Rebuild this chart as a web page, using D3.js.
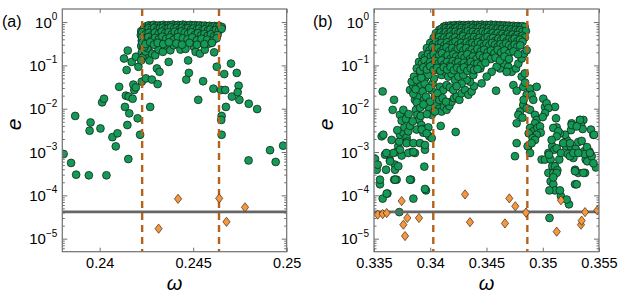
<!DOCTYPE html>
<html>
<head>
<meta charset="utf-8">
<script src="https://cdn.jsdelivr.net/npm/d3@7"></script>
<style>
  body { margin: 0; background: #fff; }
  svg text { font-family: "Liberation Sans", Arial, Helvetica, sans-serif; fill: #000; }
</style>
</head>
<body>
<svg id="chart"></svg>
<script>
const width = 623;
const height = 294;

// ---- data: [omega, e] ----
const dotsA = [
  // tails
  [0.23807, 9e-4], [0.23847, 5.6e-4], [0.23874, 3e-4], [0.23869, 6.8e-3], [0.23942, 2.9e-4],
  [0.23951, 4.8e-3], [0.23946, 3.1e-3], [0.24004, 3.5e-3], [0.24036, 2.9e-4], [0.24013, 1.4e-2],
  [0.24023, 1.7e-2], [0.24068, 2.2e-3], [0.24095, 2.7e-3], [0.24086, 1.35e-3], [0.24104, 3.2e-2],
  [0.24135, 1.1e-2], [0.24158, 7.8e-3], [0.24148, 4.2e-3], [0.24153, 6.9e-4], [0.2414, 2e-2],
  [0.24155, 1.9e-2], [0.24176, 1.7e-2], [0.24185, 2.7e-2], [0.2418, 3.6e-2], [0.24193, 3.1e-2],
  [0.24203, 6e-3], [0.24216, 2.5e-3], [0.2413, 0.144], [0.24144, 0.078], [0.2415, 0.22],
  [0.24171, 0.12], [0.24194, 0.158], [0.24207, 0.093], [0.24225, 0.042], [0.24247, 0.05],
  [0.24279, 0.047], [0.2431, 0.037], [0.2427, 0.011], [0.24306, 0.085], [0.2432, 0.071],
  [0.24266, 0.13], [0.24369, 0.12], [0.24463, 0.047], [0.24477, 0.067], [0.24473, 0.13],
  [0.24527, 0.016], [0.24553, 0.043], [0.24608, 0.029], [0.24648, 0.027], [0.24652, 6.8e-3],
  [0.2465, 5.5e-3], [0.24652, 2.5e-3], [0.24671, 0.027], [0.24675, 0.011], [0.24702, 0.11],
  [0.24666, 0.063], [0.24626, 0.093], [0.24707, 0.019], [0.24733, 0.067], [0.24743, 0.034],
  [0.24738, 0.024], [0.24747, 0.016], [0.24797, 0.013], [0.24842, 9.8e-3], [0.24796, 6.4e-4],
  [0.24911, 1.1e-3], [0.24941, 5.9e-4], [0.24981, 1.4e-3],
  // middle, 0.15 .. 0.4
  [0.24234, 0.267], [0.24261, 0.223], [0.24279, 0.187], [0.24297, 0.171], [0.24315, 0.231],
  [0.24338, 0.205], [0.24351, 0.291], [0.24378, 0.223], [0.24396, 0.291], [0.24432, 0.231],
  [0.24459, 0.24], [0.24504, 0.267], [0.24513, 0.205], [0.24536, 0.187], [0.24562, 0.23],
  [0.24585, 0.318], [0.2459, 0.38], [0.24612, 0.2], [0.24549, 0.347], [0.24531, 0.33],
  // left edge column
  [0.24222, 0.62], [0.2422, 0.5], [0.24225, 0.37], [0.24222, 0.28], [0.24232, 0.24],
  [0.24225, 0.2], [0.2424, 0.17], [0.24228, 0.15], [0.24222, 0.13], [0.24245, 0.21],
  [0.24255, 0.25], [0.2424, 0.27],
  // dense top
  [0.2425, 0.8], [0.24263, 0.84], [0.24276, 0.82], [0.24289, 0.86], [0.24302, 0.81],
  [0.24315, 0.84], [0.24328, 0.83], [0.24341, 0.86], [0.24354, 0.82], [0.24367, 0.85],
  [0.2438, 0.84], [0.24393, 0.87], [0.24406, 0.83], [0.24419, 0.86], [0.24432, 0.84],
  [0.24445, 0.87], [0.24458, 0.85], [0.24471, 0.82], [0.24484, 0.86], [0.24497, 0.83],
  [0.2451, 0.85], [0.24523, 0.82], [0.24536, 0.84], [0.24549, 0.81], [0.24562, 0.83],
  [0.24575, 0.8], [0.24588, 0.82], [0.24601, 0.79], [0.24614, 0.81], [0.24627, 0.78],
  [0.2464, 0.8], [0.24653, 0.77],
  [0.24235, 0.7], [0.24248, 0.66], [0.24262, 0.72], [0.24278, 0.68], [0.24292, 0.73],
  [0.24308, 0.67], [0.24322, 0.71], [0.24338, 0.74], [0.24352, 0.69], [0.24368, 0.72],
  [0.24382, 0.75], [0.24398, 0.7], [0.24412, 0.73], [0.24428, 0.68], [0.24442, 0.74],
  [0.24458, 0.7], [0.24472, 0.72], [0.24488, 0.67], [0.24502, 0.71], [0.24518, 0.66],
  [0.24532, 0.7], [0.24548, 0.64], [0.24562, 0.68], [0.24578, 0.63], [0.24592, 0.67],
  [0.24608, 0.62], [0.24622, 0.66], [0.24638, 0.64], [0.24652, 0.7],
  [0.24228, 0.58], [0.24245, 0.52], [0.24262, 0.56], [0.2428, 0.5], [0.24296, 0.57],
  [0.24315, 0.53], [0.24332, 0.6], [0.2435, 0.55], [0.24368, 0.58], [0.24385, 0.52],
  [0.24402, 0.6], [0.2442, 0.56], [0.24438, 0.61], [0.24455, 0.57], [0.24472, 0.53],
  [0.2449, 0.58], [0.24508, 0.5], [0.24525, 0.55], [0.24542, 0.49], [0.2456, 0.53],
  [0.24578, 0.48], [0.24595, 0.52], [0.24612, 0.47], [0.2463, 0.5],
  [0.24226, 0.44], [0.24242, 0.4], [0.2426, 0.45], [0.24278, 0.38], [0.24296, 0.43],
  [0.24316, 0.4], [0.24335, 0.46], [0.24355, 0.41], [0.24375, 0.44], [0.24395, 0.39],
  [0.24418, 0.45], [0.24445, 0.42], [0.2447, 0.4], [0.24495, 0.44], [0.2452, 0.38],
  [0.24545, 0.41], [0.24575, 0.39], [0.24605, 0.37], [0.24625, 0.42],
  [0.24228, 0.33], [0.24245, 0.31], [0.2427, 0.34], [0.2429, 0.3], [0.2431, 0.33],
  [0.2434, 0.31], [0.2437, 0.34], [0.2441, 0.32], [0.2444, 0.3], [0.2448, 0.33],
  [0.2452, 0.3], [0.2456, 0.31], [0.246, 0.33]
];
const diamondsA = [
  [0.24315, 1.7e-5], [0.24419, 8.3e-5], [0.24639, 8.5e-5], [0.24678, 2.45e-5], [0.24777, 5.3e-5]
];
const dashA = [0.24227, 0.24638];

const dotsB = [
  // left tail
  [0.33509, 6.9e-4], [0.33518, 4.7e-4], [0.33524, 3.9e-4], [0.33533, 5.1e-4], [0.33568, 2.3e-3],
  [0.33583, 2.5e-3], [0.33577, 2.5e-2], [0.33598, 8.7e-4], [0.33607, 3.9e-4], [0.33553, 1.8e-4],
  [0.33577, 8.4e-5], [0.33619, 1.1e-4], [0.33642, 6.4e-4], [0.33657, 1.9e-3], [0.33678, 1.6e-2],
  [0.33666, 9.4e-3], [0.33687, 5.1e-4], [0.33701, 2.3e-4], [0.3368, 2.3e-4], [0.33701, 1.0e-3],
  [0.33716, 1.36e-3], [0.33725, 1.75e-3], [0.33731, 2.5e-3], [0.33746, 8.3e-4], [0.33761, 2.8e-3],
  [0.3377, 3.7e-3], [0.33776, 6.6e-3], [0.3379, 2.2e-3], [0.33796, 1.75e-3], [0.33805, 3.0e-3],
  [0.3382, 4.0e-3], [0.33835, 1.0e-3], [0.33829, 2.3e-4], [0.3385, 8.4e-5], [0.33864, 9.5e-4],
  [0.3382, 2.7e-2], [0.3385, 3.3e-2], [0.33873, 9.4e-3], [0.33885, 7.2e-3], [0.339, 5.5e-3],
  [0.33915, 6.8e-3], [0.33921, 4.2e-3], [0.33932, 3.4e-3], [0.33938, 2.8e-3], [0.33953, 1.13e-3],
  [0.33947, 4.6e-4], [0.33962, 1.3e-4], [0.33983, 3.7e-3], [0.33992, 2.3e-3], [0.34013, 2.1e-3],
  [0.33725, 4.1e-5], [0.33731, 7.2e-3], [0.33746, 5.3e-3], [0.33707, 3.2e-3], [0.33761, 9.4e-3],
  [0.33784, 5.8e-3], [0.33808, 7.5e-3], [0.33844, 5.1e-3], [0.33864, 1.6e-2], [0.33885, 1.9e-2],
  [0.33879, 3.3e-3], [0.33924, 3.3e-3], [0.33968, 2.7e-3], [0.3379, 1.6e-3], [0.3385, 1.6e-3],
  [0.33909, 1.6e-3], [0.33953, 1.45e-3], [0.33731, 1.13e-3], [0.33805, 9.5e-4], [0.3385, 1.0e-3],
  [0.33672, 9.5e-4], [0.3361, 9.5e-4], [0.33643, 6.1e-4], [0.33687, 3.9e-4], [0.33716, 4.7e-4],
  [0.33553, 2.3e-4], [0.33613, 1.1e-4], [0.33687, 2.3e-4], [0.3382, 2.3e-4], [0.33953, 1.4e-4],
  // left arm, 0.01 .. 0.1
  [0.33835, 0.042], [0.33856, 0.055], [0.33879, 0.046], [0.33894, 0.085], [0.33915, 0.033],
  [0.33932, 0.025], [0.33944, 0.016], [0.33962, 0.019], [0.33983, 0.011], [0.33998, 0.0145],
  [0.34013, 0.027], [0.34021, 0.038], [0.34033, 0.05], [0.34042, 0.019], [0.34057, 0.012],
  [0.34081, 0.01], [0.34101, 0.0086], [0.34122, 0.011], [0.34146, 0.0094], [0.3417, 0.0115],
  [0.3419, 0.0145], [0.34211, 0.0175], [0.34235, 0.019], [0.34259, 0.016], [0.34279, 0.0226],
  [0.34309, 0.027], [0.34339, 0.021], [0.34368, 0.025], [0.34389, 0.033], [0.34353, 0.042],
  [0.34324, 0.046], [0.34383, 0.06], [0.34093, 0.004], [0.34226, 0.0029], [0.34457, 0.0384],
  [0.34585, 0.026], [0.34445, 0.085], [0.33915, 0.12], [0.33944, 0.125], [0.33968, 0.11],
  [0.34004, 0.12], [0.34027, 0.136], [0.33909, 0.071], [0.33953, 0.05], [0.33983, 0.06],
  [0.34072, 0.078], [0.34101, 0.06], [0.34131, 0.071], [0.3416, 0.055], [0.3419, 0.063],
  [0.3422, 0.046], [0.3425, 0.055], [0.34279, 0.038], [0.34294, 0.06], [0.34087, 0.032],
  [0.34116, 0.027], [0.34146, 0.035], [0.34175, 0.031], [0.34205, 0.027], [0.34235, 0.033],
  [0.34063, 0.0226], [0.34081, 0.0159], [0.3411, 0.0175], [0.3414, 0.0145], [0.34013, 0.0072],
  [0.34042, 0.0086], [0.3385, 0.022], [0.3388, 0.014], [0.3391, 0.0105], [0.3394, 0.0125],
  [0.3397, 0.0075], [0.3387, 0.028], [0.3395, 0.038], [0.3399, 0.03], [0.3392, 0.052],
  // right side of the body
  [0.3462, 0.085], [0.34656, 0.11], [0.34694, 0.093], [0.34724, 0.071], [0.34762, 0.085],
  [0.34783, 0.11], [0.34813, 0.144], [0.34834, 0.187], [0.34857, 0.223], [0.34813, 0.055],
  [0.34739, 0.035], [0.34768, 0.026], [0.34827, 0.032], [0.34887, 0.029], [0.34946, 0.032],
  [0.34857, 0.021], [0.34901, 0.021], [0.34916, 0.016], [0.35005, 0.017], [0.3502, 0.011],
  [0.35109, 0.011], [0.34827, 0.0122], [0.34798, 0.0086], [0.34783, 0.0072], [0.34857, 0.0102],
  [0.34887, 0.0094], [0.34931, 0.0072], [0.34946, 0.0055], [0.34768, 0.0046], [0.34931, 0.0046],
  [0.35257, 0.0046], [0.35331, 0.0055], [0.34768, 0.0016], [0.34753, 0.0008], [0.34872, 0.00136],
  [0.34679, 0.071], [0.3459, 0.093], [0.34546, 0.071], [0.34502, 0.055], [0.34843, 0.04],
  [0.3484, 0.065], [0.3483, 0.016], [0.3482, 0.0062],
  // right tail
  [0.34887, 0.0036], [0.34916, 0.003], [0.34952, 0.0036], [0.34976, 0.0039], [0.34982, 0.0028],
  [0.34946, 0.0025], [0.34875, 0.0027], [0.34866, 0.00136], [0.34887, 0.00095], [0.35035, 0.0133],
  [0.3505, 0.0103], [0.3502, 0.0079], [0.35, 0.0064], [0.3499, 0.00067], [0.3502, 0.00067],
  [0.3505, 0.00095], [0.3507, 0.00067], [0.35085, 0.00136], [0.35103, 0.00113], [0.35124, 0.00122],
  [0.35147, 0.00067], [0.35162, 0.00095], [0.35183, 0.0016], [0.35207, 0.00136], [0.35222, 0.0009],
  [0.35248, 0.00136], [0.35272, 0.00073], [0.35293, 0.00118], [0.35316, 0.0017], [0.35346, 0.0018],
  [0.35366, 0.00103], [0.35382, 0.00067], [0.35396, 0.00061], [0.35414, 0.00103], [0.35435, 0.0008],
  [0.35473, 0.00044], [0.3545, 0.0025], [0.35429, 0.0033], [0.35361, 0.0055], [0.3534, 0.0042],
  [0.35296, 0.004], [0.35266, 0.004], [0.35251, 0.0032], [0.35213, 0.0019], [0.35198, 0.0025],
  [0.35153, 0.0027], [0.35124, 0.0037], [0.35118, 0.006], [0.35056, 0.00087], [0.35085, 0.00047],
  [0.3505, 0.00033], [0.3507, 0.00021], [0.35094, 0.00033], [0.35109, 0.00047], [0.3513, 0.00038],
  [0.35094, 0.00018], [0.35109, 0.00013], [0.35059, 0.00013], [0.3506, 3e-5], [0.35162, 9.6e-5],
  [0.35233, 6.2e-5], [0.35287, 1.8e-4], [0.35302, 1.8e-4], [0.35287, 3.9e-4], [0.35316, 3.3e-4],
  [0.35376, 3.3e-4], [0.3537, 9e-4], [0.35355, 3.4e-3], [0.35456, 2.5e-3], [0.35094, 0.0036],
  [0.35138, 0.003], [0.35124, 0.0023], [0.35079, 0.0019], [0.35183, 0.0016], [0.35242, 0.0016],
  [0.35331, 0.0055], [0.35257, 0.0042], [0.35302, 0.0039], [0.35393, 0.0013], [0.35242, 0.0008],
  [0.35272, 0.00095], [0.35316, 0.00095], [0.35419, 0.00095], [0.3545, 0.00055], [0.35361, 0.00033],
  [0.35287, 0.00036], [0.35124, 0.00033], [0.35094, 0.00026], [0.35153, 0.00013], [0.35213, 8e-5],
  [0.3491, 0.0021], [0.34931, 0.0019], [0.34901, 0.0016],
  // dense body
  [0.3412, 0.78], [0.3414, 0.82], [0.3416, 0.8], [0.3418, 0.84], [0.342, 0.81], [0.3422, 0.85],
  [0.3424, 0.82], [0.3426, 0.86], [0.3428, 0.83], [0.343, 0.85], [0.3432, 0.82], [0.3434, 0.86],
  [0.3436, 0.84], [0.3438, 0.87], [0.344, 0.83], [0.3442, 0.86], [0.3444, 0.84], [0.3446, 0.87],
  [0.3448, 0.83], [0.345, 0.86], [0.3452, 0.84], [0.3454, 0.87], [0.3456, 0.83], [0.3458, 0.86],
  [0.346, 0.82], [0.3462, 0.85], [0.3464, 0.82], [0.3466, 0.84], [0.3468, 0.81], [0.347, 0.83],
  [0.3472, 0.8], [0.3474, 0.82], [0.3476, 0.79], [0.3478, 0.81], [0.348, 0.78], [0.3482, 0.8],
  [0.3484, 0.77],
  [0.3408, 0.66], [0.341, 0.7], [0.3412, 0.65], [0.3414, 0.72], [0.3416, 0.68], [0.3418, 0.73],
  [0.342, 0.67], [0.3422, 0.71], [0.3424, 0.74], [0.3426, 0.69], [0.3428, 0.73], [0.343, 0.68],
  [0.3432, 0.72], [0.3434, 0.75], [0.3436, 0.7], [0.3438, 0.73], [0.344, 0.68], [0.3442, 0.72],
  [0.3444, 0.75], [0.3446, 0.7], [0.3448, 0.73], [0.345, 0.69], [0.3452, 0.72], [0.3454, 0.67],
  [0.3456, 0.71], [0.3458, 0.66], [0.346, 0.7], [0.3462, 0.65], [0.3464, 0.69], [0.3466, 0.64],
  [0.3468, 0.68], [0.347, 0.63], [0.3472, 0.67], [0.3474, 0.62], [0.3476, 0.66], [0.3478, 0.61],
  [0.348, 0.65], [0.3482, 0.6], [0.3485, 0.62],
  [0.3405, 0.55], [0.34072, 0.5], [0.34094, 0.57], [0.34116, 0.52], [0.34138, 0.58], [0.3416, 0.53],
  [0.34182, 0.59], [0.34204, 0.54], [0.34226, 0.6], [0.34248, 0.55], [0.3427, 0.58], [0.34292, 0.52],
  [0.34314, 0.57], [0.34336, 0.61], [0.34358, 0.55], [0.3438, 0.59], [0.34402, 0.53], [0.34424, 0.58],
  [0.34446, 0.54], [0.34468, 0.6], [0.3449, 0.55], [0.34512, 0.58], [0.34534, 0.52], [0.34556, 0.56],
  [0.34578, 0.5], [0.346, 0.55], [0.34622, 0.49], [0.34644, 0.53], [0.34666, 0.48], [0.34688, 0.52],
  [0.3471, 0.47], [0.34732, 0.51], [0.34754, 0.46], [0.34776, 0.5], [0.34798, 0.45], [0.3482, 0.48],
  [0.3484, 0.44],
  [0.3403, 0.43], [0.34054, 0.4], [0.34078, 0.45], [0.34102, 0.39], [0.34126, 0.44], [0.3415, 0.41],
  [0.34174, 0.46], [0.34198, 0.4], [0.34222, 0.44], [0.34246, 0.38], [0.3427, 0.43], [0.34294, 0.47],
  [0.34318, 0.41], [0.34342, 0.44], [0.34366, 0.39], [0.3439, 0.45], [0.34414, 0.4], [0.34438, 0.43],
  [0.34462, 0.38], [0.34486, 0.42], [0.3451, 0.45], [0.34534, 0.4], [0.34558, 0.43], [0.34582, 0.37],
  [0.34606, 0.41], [0.3463, 0.38], [0.34654, 0.42], [0.34678, 0.36], [0.34702, 0.4], [0.34726, 0.37],
  [0.3475, 0.41], [0.34774, 0.36], [0.34798, 0.39], [0.3482, 0.35],
  [0.34, 0.33], [0.34025, 0.3], [0.3405, 0.34], [0.34075, 0.31], [0.341, 0.33], [0.34125, 0.29],
  [0.3415, 0.34], [0.34175, 0.3], [0.342, 0.32], [0.34225, 0.35], [0.3425, 0.3], [0.34275, 0.33],
  [0.343, 0.29], [0.34325, 0.34], [0.3435, 0.31], [0.34375, 0.33], [0.344, 0.3], [0.34425, 0.34],
  [0.3445, 0.31], [0.34475, 0.28], [0.345, 0.32], [0.34525, 0.29], [0.3455, 0.33], [0.34575, 0.3],
  [0.346, 0.27], [0.34625, 0.31], [0.3465, 0.28], [0.34675, 0.32], [0.347, 0.29], [0.34725, 0.26],
  [0.3475, 0.3], [0.34775, 0.27], [0.348, 0.29],
  [0.3397, 0.25], [0.33995, 0.22], [0.3402, 0.26], [0.34045, 0.23], [0.3407, 0.25], [0.34095, 0.21],
  [0.3412, 0.24], [0.34145, 0.26], [0.3417, 0.22], [0.34195, 0.25], [0.3422, 0.21], [0.34245, 0.24],
  [0.3427, 0.26], [0.34295, 0.22], [0.3432, 0.25], [0.34345, 0.21], [0.3437, 0.23], [0.34395, 0.2],
  [0.3442, 0.24], [0.3445, 0.21], [0.3448, 0.23], [0.3451, 0.2], [0.3454, 0.22], [0.3457, 0.19],
  [0.346, 0.23], [0.3463, 0.2], [0.3466, 0.22], [0.347, 0.19], [0.3474, 0.21], [0.3478, 0.18],
  [0.3393, 0.17], [0.33955, 0.15], [0.3398, 0.18], [0.34005, 0.16], [0.3403, 0.18], [0.34055, 0.15],
  [0.3408, 0.17], [0.34105, 0.19], [0.3413, 0.15], [0.34155, 0.17], [0.3418, 0.14], [0.34205, 0.18],
  [0.3423, 0.16], [0.34255, 0.14], [0.3428, 0.17], [0.34305, 0.15], [0.3433, 0.18], [0.34355, 0.14],
  [0.3438, 0.16], [0.3441, 0.14], [0.3444, 0.17], [0.3447, 0.15], [0.345, 0.16], [0.3454, 0.14],
  [0.3458, 0.15], [0.3462, 0.13], [0.3466, 0.16], [0.347, 0.14],
  [0.339, 0.12], [0.33925, 0.11], [0.3395, 0.13], [0.33975, 0.1], [0.34, 0.12], [0.34025, 0.105],
  [0.3405, 0.125], [0.34075, 0.11], [0.341, 0.13], [0.34125, 0.105], [0.3415, 0.12], [0.34175, 0.1],
  [0.342, 0.125], [0.34225, 0.11], [0.3425, 0.12], [0.34275, 0.1], [0.343, 0.115], [0.3433, 0.1],
  [0.3436, 0.12], [0.3439, 0.105], [0.3442, 0.11], [0.3445, 0.1], [0.3449, 0.115],
  [0.3388, 0.085], [0.3391, 0.075], [0.3394, 0.09], [0.3397, 0.08], [0.34, 0.095], [0.3403, 0.078],
  [0.3406, 0.088], [0.3409, 0.075], [0.3412, 0.09], [0.3415, 0.08], [0.3418, 0.092], [0.3421, 0.077],
  [0.3424, 0.088], [0.3427, 0.08], [0.343, 0.09], [0.3433, 0.075], [0.3436, 0.085], [0.3439, 0.078],
  [0.3442, 0.082]
];
const diamondsB = [
  [0.33533, 3.6e-5], [0.33577, 3.7e-5], [0.33613, 3.9e-5], [0.33746, 7.4e-5], [0.33761, 2.1e-5],
  [0.33776, 1.15e-5], [0.33796, 3e-5], [0.339, 3e-5], [0.34309, 1.05e-4], [0.34353, 2.4e-5],
  [0.34664, 2.25e-5], [0.34703, 8.5e-5], [0.34756, 5.6e-5], [0.34851, 4e-5], [0.35124, 1.45e-5],
  [0.35162, 7.7e-5], [0.3534, 2.1e-5], [0.35346, 2.6e-5], [0.35376, 4.1e-5], [0.35485, 4.5e-5]
];
const dashB = [0.34027, 0.34863];

const threshold = 4.15e-5;
const yDecades = [1, 1e-1, 1e-2, 1e-3, 1e-4, 1e-5];
const yExponents = ["0", "\u22121", "\u22122", "\u22123", "\u22124", "\u22125"];
const xTicksA = [0.24, 0.245, 0.25];
const xLabelsA = ["0.24", "0.245", "0.25"];
const xTicksB = [0.335, 0.34, 0.345, 0.35, 0.355];
const xLabelsB = ["0.335", "0.34", "0.345", "0.35", "0.355"];

const svg = d3.select('#chart')
    .attr('width', width)
    .attr('height', height);

const plotTop = 9, plotBottom = 251.7;
const y = d3.scaleLog().domain([5e-6, 2]).range([plotBottom, plotTop]);

// minor log ticks 2..9 per decade
const minorTicks = [];
[1e-6, 1e-5, 1e-4, 1e-3, 1e-2, 1e-1, 1].forEach(d => {
    for (let k = 2; k <= 9; k++) {
        const v = d * k;
        if (v > 5e-6 && v < 2) minorTicks.push(v);
    }
});

function panel(opts) {
    const x = d3.scaleLinear().domain(opts.domain).range(opts.range);
    const g = svg.append('g');
    const clipId = 'clip' + opts.id;
    svg.append('clipPath').attr('id', clipId)
        .append('rect')
        .attr('x', opts.range[0]).attr('y', plotTop)
        .attr('width', opts.range[1] - opts.range[0])
        .attr('height', plotBottom - plotTop);

    const plot = g.append('g').attr('clip-path', `url(#${clipId})`);

    plot.append('g').selectAll('circle')
        .data(opts.dots)
        .enter().append('circle')
        .attr('cx', d => x(d[0]))
        .attr('cy', d => y(d[1]))
        .attr('r', 3.9)
        .attr('fill', '#129a56')
        .attr('stroke', '#142a1c')
        .attr('stroke-width', 0.8);

    plot.append('line')
        .attr('x1', opts.range[0]).attr('x2', opts.range[1])
        .attr('y1', y(threshold)).attr('y2', y(threshold))
        .attr('stroke', '#666')
        .attr('stroke-width', 2.6);

    plot.append('g').selectAll('line')
        .data(opts.dash)
        .enter().append('line')
        .attr('x1', d => x(d)).attr('x2', d => x(d))
        .attr('y1', plotTop).attr('y2', plotBottom)
        .attr('stroke', '#b3621c')
        .attr('stroke-width', 2.4)
        .attr('stroke-dasharray', '7,5');

    plot.append('g').selectAll('path')
        .data(opts.diamonds)
        .enter().append('path')
        .attr('transform', d => `translate(${x(d[0])},${y(d[1])})`)
        .attr('d', 'M0,-4.6L3.6,0L0,4.6L-3.6,0Z')
        .attr('fill', '#f7963a')
        .attr('stroke', '#3b2a1a')
        .attr('stroke-width', 0.7);

    // frame
    g.append('rect')
        .attr('x', opts.range[0]).attr('y', plotTop)
        .attr('width', opts.range[1] - opts.range[0])
        .attr('height', plotBottom - plotTop)
        .attr('fill', 'none')
        .attr('stroke', '#6f6f6f')
        .attr('stroke-width', 1.2);

    const tickStyle = sel => {
        sel.select('.domain').remove();
        sel.selectAll('line').attr('stroke', '#6f6f6f');
    };

    // x axes, ticks pointing inward
    const xb = g.append('g')
        .attr('transform', `translate(0,${plotBottom})`)
        .call(d3.axisBottom(x).tickValues(opts.xTicks).tickSize(-4).tickPadding(6)
            .tickFormat((d, i) => opts.xLabels[i]));
    tickStyle(xb);
    xb.selectAll('text').attr('font-size', 14.5).attr('fill', '#000')
        .attr('font-family', '"Liberation Sans", Arial, sans-serif');

    const xt = g.append('g')
        .attr('transform', `translate(0,${plotTop})`)
        .call(d3.axisTop(x).tickValues(opts.xTicks).tickSize(-4).tickFormat(''));
    tickStyle(xt);

    // y axes, major and minor
    [[opts.range[0], d3.axisLeft], [opts.range[1], d3.axisRight]].forEach(([px, ax]) => {
        const major = g.append('g').attr('transform', `translate(${px},0)`)
            .call(ax(y).tickValues(yDecades).tickSize(-5).tickFormat(''));
        tickStyle(major);
        const minor = g.append('g').attr('transform', `translate(${px},0)`)
            .call(ax(y).tickValues(minorTicks).tickSize(-2.5).tickFormat(''));
        tickStyle(minor);
    });

    const yl = g.append('g').selectAll('text')
        .data(yDecades)
        .enter().append('text')
        .attr('x', opts.range[0] - 5)
        .attr('y', d => y(d) + 5.5)
        .attr('text-anchor', 'end')
        .attr('font-size', 15);
    yl.append('tspan').text('10');
    yl.append('tspan')
        .attr('font-size', 10)
        .attr('dy', -7.5)
        .text((d, i) => yExponents[i]);

    // panel tag
    g.append('text')
        .attr('x', opts.tagX).attr('y', 27)
        .attr('font-size', 16)
        .text(opts.tag);

    // axis titles
    g.append('text')
        .attr('transform', `translate(${opts.range[0] - 41},${(plotTop + plotBottom) / 2 - 6}) rotate(-90)`)
        .attr('text-anchor', 'middle')
        .attr('font-family', '"DejaVu Serif", "Liberation Serif", serif')
        .attr('font-style', 'italic')
        .attr('font-size', 21)
        .text('e');

    g.append('text')
        .attr('x', (opts.range[0] + opts.range[1]) / 2)
        .attr('y', 290)
        .attr('text-anchor', 'middle')
        .attr('font-family', '"DejaVu Serif", "Liberation Serif", serif')
        .attr('font-style', 'italic')
        .attr('font-size', 20)
        .text('\u03c9');
}

panel({ id: 'a', domain: [0.238, 0.25], range: [62.3, 286.7], dots: dotsA, diamonds: diamondsA,
        dash: dashA, xTicks: xTicksA, xLabels: xLabelsA, tag: '(a)', tagX: 2 });
panel({ id: 'b', domain: [0.335, 0.355], range: [374, 599], dots: dotsB, diamonds: diamondsB,
        dash: dashB, xTicks: xTicksB, xLabels: xLabelsB, tag: '(b)', tagX: 313 });
</script>
</body>
</html>
